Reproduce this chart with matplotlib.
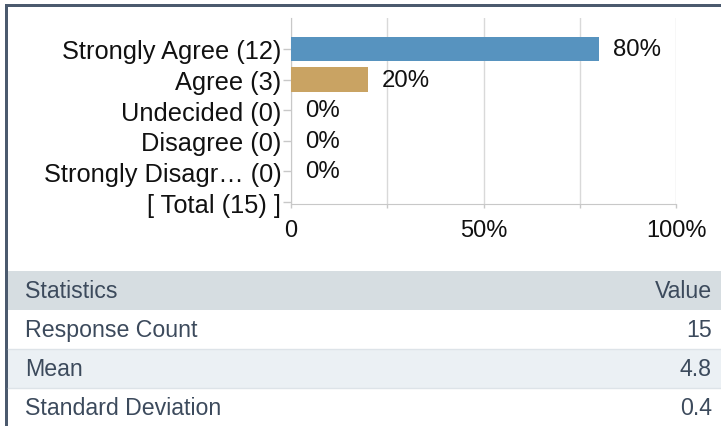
import matplotlib
matplotlib.use("Agg")
import matplotlib.pyplot as plt
from matplotlib.patches import Rectangle
from matplotlib.lines import Line2D

# data
categories = ["Strongly Agree (12)", "Agree (3)", "Undecided (0)", "Disagree (0)",
              "Strongly Disagr\u2026 (0)", "[ Total (15) ]"]
percents = [80, 20, 0, 0, 0]
x_ticks = [0, 25, 50, 75, 100]
x_tick_labels = ["0", "", "50%", "", "100%"]
stat_header = ["Statistics", "Value"]
stat_names = ["Response Count", "Mean", "Standard Deviation"]
stat_values = ["15", "4.8", "0.4"]

bar_colors = ["#5793BF", "#C9A363", "#5793BF", "#5793BF", "#5793BF"]

W, H = 721, 427
plt.rcParams['font.family'] = ['Liberation Sans', 'DejaVu Sans']


def fx(px):
    return px / W


def fy(py):
    return 1 - py / H


fig = plt.figure(figsize=(W / 100, H / 100), dpi=100)
fig.patch.set_facecolor('#FFFFFF')

# frame on top and left
border = '#4B5A6E'
fig.add_artist(Rectangle((fx(5), fy(8)), 1, fy(5) - fy(8), transform=fig.transFigure,
                         color=border, lw=0))
fig.add_artist(Rectangle((fx(5), 0), fx(3), fy(5), transform=fig.transFigure,
                         color=border, lw=0))

# bar chart
ax = fig.add_axes([fx(291), fy(205), fx(676) - fx(291), fy(19) - fy(205)])
ypos = list(range(len(percents)))
ax.barh(ypos, percents, height=0.8, color=bar_colors[:len(percents)], zorder=3)
for y, p in zip(ypos, percents):
    ax.annotate(f"{p}%", xy=(p, y), xytext=(14, 0), textcoords='offset pixels',
                ha='left', va='center', fontsize=17.3, color='#111111')

ax.set_xlim(0, 100)
ax.set_ylim(5.065, -1.01)
ax.set_yticks(range(len(categories)))
ax.set_yticklabels(categories, fontsize=18.3, color='#111111')
ax.set_xticks(x_ticks)
ax.set_xticklabels(x_tick_labels, fontsize=17, color='#111111')
ax.grid(axis='x', color='#D9D9D9', lw=1, zorder=0)
for s in ['top', 'right']:
    ax.spines[s].set_visible(False)
for s in ['left', 'bottom']:
    ax.spines[s].set_color('#C8C8C8')
ax.tick_params(axis='y', length=6, width=1, color='#C8C8C8', pad=1)
ax.tick_params(axis='x', length=3, width=1, color='#C8C8C8', pad=8)

# statistics table
txt = '#3C4A5C'
fig.add_artist(Rectangle((fx(8), fy(311)), 1, fy(272) - fy(311), transform=fig.transFigure,
                         color='#D6DDE1', lw=0))
fig.add_artist(Rectangle((fx(8), fy(389)), 1, fy(350) - fy(389), transform=fig.transFigure,
                         color='#EBF0F4', lw=0))
for yy in [350, 389]:
    fig.add_artist(Line2D([fx(8), 1], [fy(yy), fy(yy)], transform=fig.transFigure,
                          color='#DDE3E8', lw=1))

fig.text(fx(25), fy(291.5), stat_header[0], ha='left', va='center', fontsize=16.7, color=txt)
fig.text(fx(712), fy(291.5), stat_header[1], ha='right', va='center', fontsize=16.7, color=txt)
row_centers = [330.5, 369.5, 408.5]
for name, val, yc in zip(stat_names, stat_values, row_centers):
    fig.text(fx(25), fy(yc), name, ha='left', va='center', fontsize=16.7, color=txt)
    fig.text(fx(712), fy(yc), val, ha='right', va='center', fontsize=16.7, color=txt)

fig.savefig('out.png', dpi=100)
